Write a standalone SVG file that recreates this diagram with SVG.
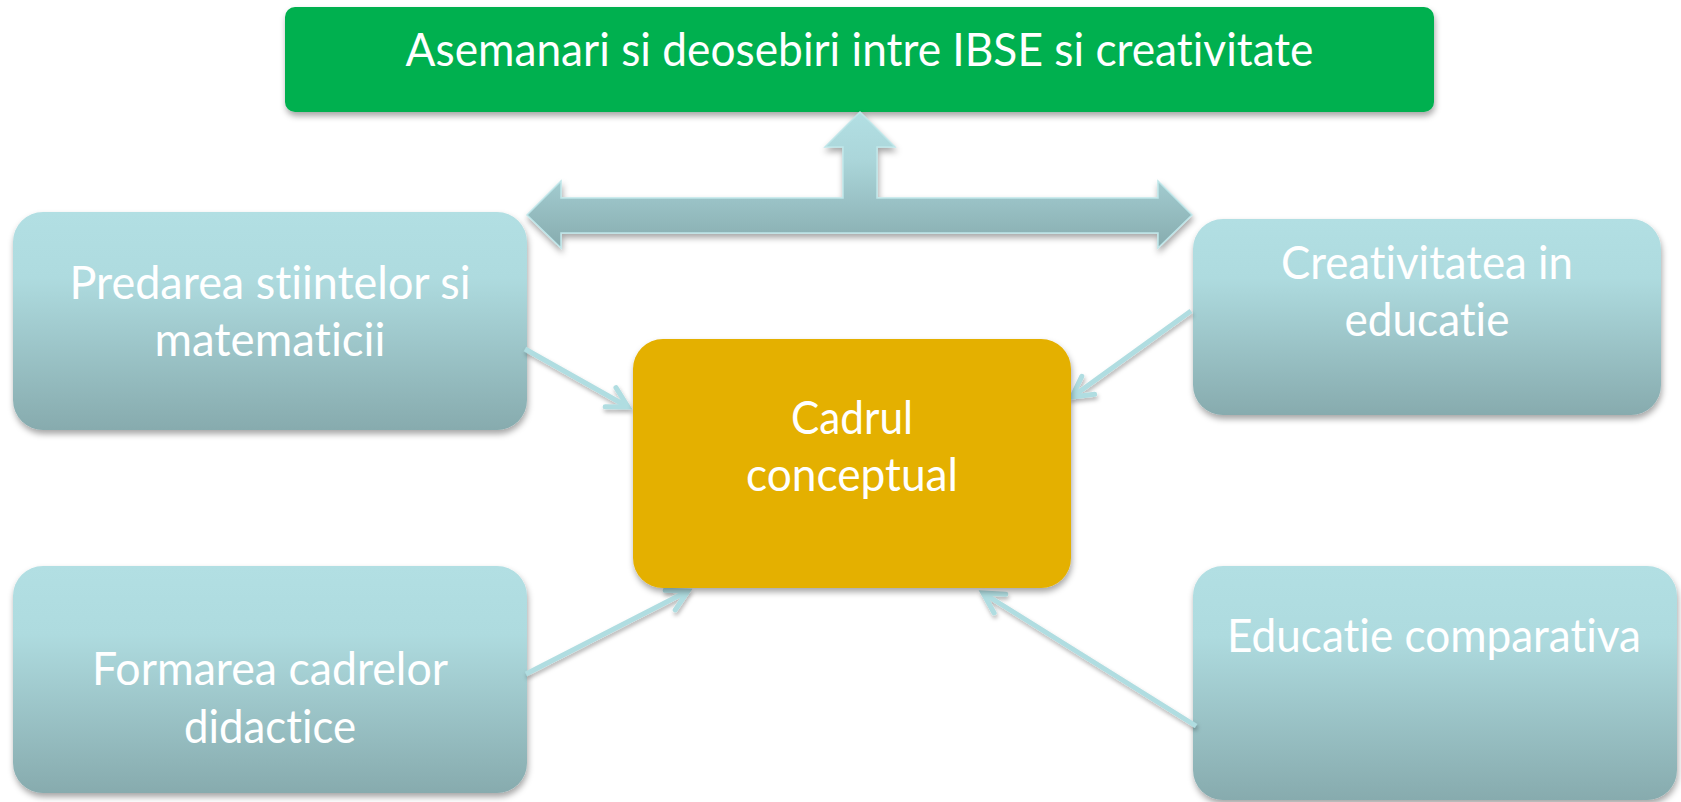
<svg xmlns="http://www.w3.org/2000/svg" width="1681" height="802" viewBox="0 0 1681 802">
<defs>
<linearGradient id="boxGrad" x1="0" y1="0" x2="0" y2="1">
<stop offset="0" stop-color="#b2dfe3"/>
<stop offset="0.3" stop-color="#aedbdf"/>
<stop offset="1" stop-color="#87abae"/>
</linearGradient>
<linearGradient id="arrowGrad" gradientUnits="userSpaceOnUse" x1="0" y1="112" x2="0" y2="247">
<stop offset="0" stop-color="#b2dfe3"/>
<stop offset="0.35" stop-color="#abd6da"/>
<stop offset="1" stop-color="#87acaf"/>
</linearGradient>
<filter id="shadow" x="-10%" y="-10%" width="125%" height="130%">
<feDropShadow dx="1" dy="4" stdDeviation="3" flood-color="#000" flood-opacity="0.35"/>
</filter>
<filter id="lshadow" x="-20%" y="-20%" width="140%" height="140%">
<feDropShadow dx="1" dy="3" stdDeviation="2" flood-color="#000" flood-opacity="0.3"/>
</filter>
<marker id="chev" markerUnits="userSpaceOnUse" markerWidth="40" markerHeight="40" viewBox="-30 -20 40 40" refX="0" refY="0" orient="auto">
<path d="M -20 -11 L 0 0 L -20 11" fill="none" stroke="#b0dde1" stroke-width="5" stroke-linecap="round" stroke-linejoin="miter"/>
</marker>
</defs>
<style>
.box{fill:url(#boxGrad);filter:url(#shadow);}
.txt{font-family:Lato,"Liberation Sans",sans-serif;font-size:47px;fill:#ffffff;text-anchor:middle;font-variant-ligatures:none;font-feature-settings:"liga" 0;}
.conn{stroke:#b0dde1;stroke-width:5;fill:none;marker-end:url(#chev);}
</style>
<rect width="1681" height="802" fill="#ffffff"/>

<g id="top-node">
<rect x="285" y="7" width="1149" height="105" rx="10" fill="#00b050" filter="url(#shadow)"/>
<text class="txt" x="859.5" y="66" textLength="908" lengthAdjust="spacingAndGlyphs">Asemanari si deosebiri intre IBSE si creativitate</text>
</g>

<g id="big-arrow">
<path d="M 860 112 L 895 147 L 877 147 L 877 198 L 1158 198 L 1158 181 L 1192 215 L 1158 248 L 1158 233 L 561 233 L 561 248 L 527 215 L 561 181 L 561 198 L 843 198 L 843 147 L 825 147 Z" fill="url(#arrowGrad)" stroke="#bfe6e9" stroke-width="1.5" filter="url(#shadow)"/>
</g>

<g id="node-predarea">
<rect class="box" x="13" y="212" width="514" height="218" rx="30"/>
<text class="txt" x="270" y="299" textLength="401" lengthAdjust="spacingAndGlyphs">Predarea stiintelor si</text>
<text class="txt" x="270" y="356" textLength="231" lengthAdjust="spacingAndGlyphs">matematicii</text>
</g>

<g id="node-creativitatea">
<rect class="box" x="1193" y="219" width="468" height="196" rx="30"/>
<text class="txt" x="1427" y="279" textLength="292" lengthAdjust="spacingAndGlyphs">Creativitatea in</text>
<text class="txt" x="1427" y="336" textLength="165" lengthAdjust="spacingAndGlyphs">educatie</text>
</g>

<g id="node-formarea">
<rect class="box" x="13" y="566" width="514" height="227" rx="30"/>
<text class="txt" x="270" y="685" textLength="356" lengthAdjust="spacingAndGlyphs">Formarea cadrelor</text>
<text class="txt" x="270" y="743" textLength="172" lengthAdjust="spacingAndGlyphs">didactice</text>
</g>

<g id="node-educatie">
<rect class="box" x="1193" y="566" width="484" height="234" rx="30"/>
<text class="txt" x="1434" y="652" textLength="414" lengthAdjust="spacingAndGlyphs">Educatie comparativa</text>
</g>

<g id="connectors" filter="url(#lshadow)">
<line class="conn" x1="525" y1="349" x2="628" y2="407"/>
<line class="conn" x1="1191" y1="311" x2="1072" y2="397"/>
<line class="conn" x1="526" y1="674" x2="688" y2="591"/>
<line class="conn" x1="1196" y1="726" x2="983" y2="593"/>
</g>

<g id="node-cadrul">
<rect x="633" y="339" width="438" height="249" rx="30" fill="#e4b000" filter="url(#shadow)"/>
<text class="txt" x="852" y="434" textLength="122" lengthAdjust="spacingAndGlyphs">Cadrul</text>
<text class="txt" x="852" y="491" textLength="212" lengthAdjust="spacingAndGlyphs">conceptual</text>
</g>
</svg>
